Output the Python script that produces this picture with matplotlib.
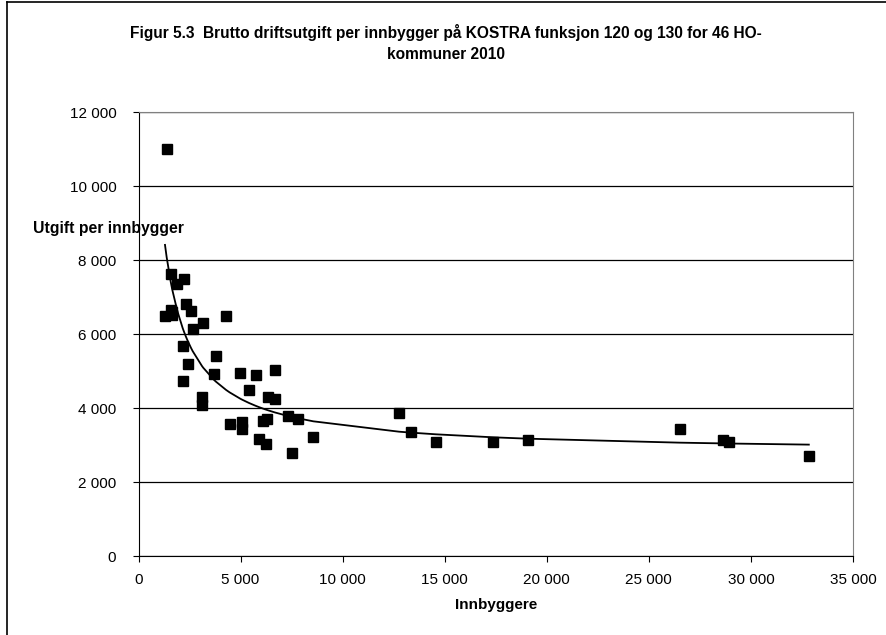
import numpy as np
import matplotlib
matplotlib.use("Agg")
import matplotlib.pyplot as plt
from matplotlib.ticker import FuncFormatter, MultipleLocator
from matplotlib.lines import Line2D

plt.rcParams['font.family'] = ['Liberation Sans', 'DejaVu Sans']

title = "Figur 5.3  Brutto driftsutgift per innbygger på KOSTRA funksjon 120 og 130 for 46 HO-\nkommuner 2010"
xlabel = "Innbyggere"
ylabel = "Utgift per innbygger"

innbyggere = [1380, 1578, 2245, 1903, 2327, 2572, 1578, 1298, 1657, 4287,
              3176, 2655, 2165, 3782, 2410, 3699, 2165, 4988, 5742, 6688,
              5414, 6361, 6688, 3111, 3111, 4467, 5071, 5071, 6083, 6279,
              7308, 7815, 5921, 6247, 8565, 7536, 12763, 13351, 14560, 17369,
              19069, 26516, 28654, 28932, 32836, 1640]
utgift = [11014, 7626, 7480, 7355, 6806, 6634, 6652, 6490, 6517, 6490,
          6309, 6150, 5687, 5416, 5183, 4913, 4724, 4957, 4895, 5030,
          4489, 4291, 4254, 4291, 4083, 3561, 3632, 3443, 3651, 3713,
          3794, 3713, 3172, 3020, 3209, 2785, 3876, 3362, 3092, 3092,
          3128, 3443, 3137, 3083, 2704, 6600]

# trend curve y = a + b/x
trend_a = 2790
trend_b = 7.3e6

x = np.array(innbyggere, dtype=float)
y = np.array(utgift, dtype=float)

fig = plt.figure(figsize=(8.87, 6.35), dpi=100)
ax = fig.add_axes([138.5/887, 1-556/635, (853-138.5)/887, (556-112.3)/635])

ax.set_xlim(0, 35000)
ax.set_ylim(0, 12000)
ax.yaxis.set_major_locator(MultipleLocator(2000))
ax.xaxis.set_major_locator(MultipleLocator(5000))
fmt = FuncFormatter(lambda v, p: f"{int(v):,}".replace(",", " "))
ax.xaxis.set_major_formatter(fmt)
ax.yaxis.set_major_formatter(fmt)
ax.grid(axis='y', color='black', linewidth=0.9)
ax.set_axisbelow(True)

xs = np.sort(x)
ax.plot(xs, trend_a + trend_b / xs, color='black', linewidth=1.3, zorder=3)
ax.plot(x, y, linestyle='none', marker='s', markersize=7.2, color='black', zorder=4)

for s in ['top', 'right']:
    ax.spines[s].set_color('#808080')
for s in ['left', 'bottom']:
    ax.spines[s].set_color('black')
ax.tick_params(axis='both', direction='out', length=4, width=0.8, labelsize=11, colors='black')
ax.tick_params(axis='y', pad=12)
ax.tick_params(axis='x', pad=8)

ax.set_xlabel(xlabel, fontsize=11, fontweight='bold', labelpad=8)
fig.text(33/887, 1-229/635, ylabel, fontsize=11.3, fontweight='bold', va='center', ha='left')
fig.text(446/887, 1-43/635, title, fontsize=11.2, fontweight='bold', ha='center', va='center', linespacing=1.5)

fig.add_artist(Line2D([7/887, 7/887], [0, 1-2/635], transform=fig.transFigure, color='black', linewidth=1.2))
fig.add_artist(Line2D([7/887, 1], [1-2/635, 1-2/635], transform=fig.transFigure, color='black', linewidth=1.2))

fig.savefig("out.png", dpi=100)
